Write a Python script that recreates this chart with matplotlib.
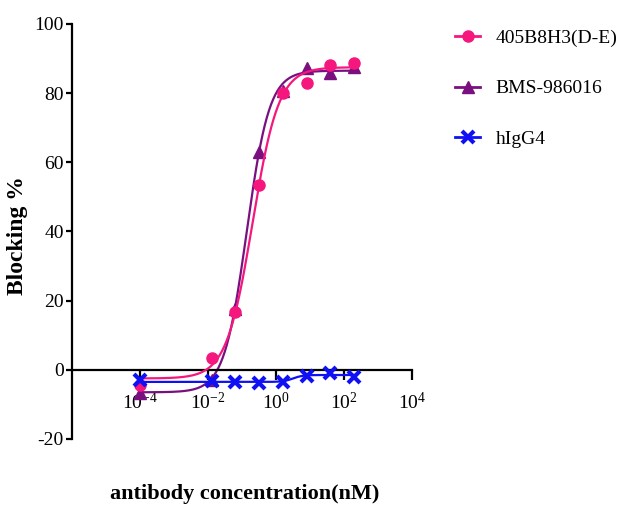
import numpy as np
import matplotlib
matplotlib.use("Agg")
import matplotlib.pyplot as plt

# antibody concentrations (nM), 5-fold dilutions
conc = [1.024e-4, 0.0128, 0.064, 0.32, 1.6, 8, 40, 200]

# blocking %
ab405 = [-4.3, 3.5, 16.8, 53.5, 80.0, 82.8, 88.0, 88.6]
bms = [-6.6, -3.0, 17.5, 63.0, 80.5, 87.2, 85.7, 87.5]
higg4 = [-2.9, -3.2, -3.4, -3.7, -3.4, -1.9, -1.0, -2.0]

# 4PL fit parameters: bottom, top, logEC50, hill
fit405 = (-2.5, 87.5, -0.69, 1.13)
fitbms = (-6.5, 86.5, -0.86, 1.30)
fitigg = (-3.5, -1.5, 0.5, 3.0)

labels = ["405B8H3(D-E)", "BMS-986016", "hIgG4"]
xticks = [1e-4, 1e-2, 1e0, 1e2, 1e4]
yticks = [-20, 0, 20, 40, 60, 80, 100]

pink = "#F5177E"
purple = "#7A1080"
blue = "#1010F5"

plt.rcParams["font.family"] = ["Liberation Serif", "DejaVu Serif"]
plt.rcParams["mathtext.fontset"] = "custom"
plt.rcParams["mathtext.rm"] = "Liberation Serif"
plt.rcParams["mathtext.it"] = "Liberation Serif:italic"
plt.rcParams["axes.unicode_minus"] = False


def four_pl(x, p):
    bottom, top, logec50, hill = p
    return bottom + (top - bottom) / (1 + 10 ** ((logec50 - np.log10(x)) * hill))


fig = plt.figure(figsize=(6.2, 5.17), dpi=100)
ax = fig.add_axes([0.1161, 0.1509, 0.5484, 0.8027])

xs = np.logspace(np.log10(conc[0]), np.log10(conc[-1]), 300)

ax.plot(xs, four_pl(xs, fitbms), color=purple, lw=1.6, zorder=2)
ax.plot(xs, four_pl(xs, fit405), color=pink, lw=1.6, zorder=3)
ax.plot(xs, four_pl(xs, fitigg), color=blue, lw=1.6, zorder=4)

ax.plot(conc, bms, ls="none", marker="^", ms=8, color=purple, zorder=2)
ax.plot(conc, ab405, ls="none", marker="o", ms=8, color=pink, zorder=3)
ax.plot(conc, higg4, ls="none", marker="x", ms=9, mew=3, color=blue, zorder=4)

# legend handles: line + marker
h1, = ax.plot([], [], color=pink, lw=2, marker="o", ms=8)
h2, = ax.plot([], [], color=purple, lw=2, marker="^", ms=8)
h3, = ax.plot([], [], color=blue, lw=2, marker="x", ms=9, mew=3)
fig.legend([h1, h2, h3], labels, loc="upper left",
           bbox_to_anchor=(455 / 620, 1 - 29 / 517), frameon=False,
           fontsize=14, handlelength=1.3, handletextpad=0.8,
           labelspacing=1.7, borderpad=0, borderaxespad=0)

ax.set_xscale("log")
ax.set_xlim(1e-6, 1e4)
ax.set_ylim(-20, 100)
ax.set_xticks(xticks)
ax.set_xticklabels([r"$10^{%d}$" % int(np.log10(t)) for t in xticks])
ax.minorticks_off()
ax.set_yticks(yticks)

ax.spines["top"].set_visible(False)
ax.spines["right"].set_visible(False)
ax.spines["bottom"].set_position(("data", 0))
ax.spines["left"].set_linewidth(1.6)
ax.spines["bottom"].set_linewidth(1.6)

ax.tick_params(axis="x", direction="out", length=7, width=1.6, labelsize=14, pad=9)
ax.tick_params(axis="y", direction="out", length=4, width=1.6, labelsize=14, pad=2)

ax.set_ylabel("Blocking %", fontsize=17, fontweight="bold")
ax.yaxis.set_label_coords(-0.128, 0.49)
fig.text(0.395, 1 - 494 / 517, "antibody concentration(nM)", fontsize=16,
         fontweight="bold", ha="center", va="center")

fig.savefig("out.png", dpi=100)
